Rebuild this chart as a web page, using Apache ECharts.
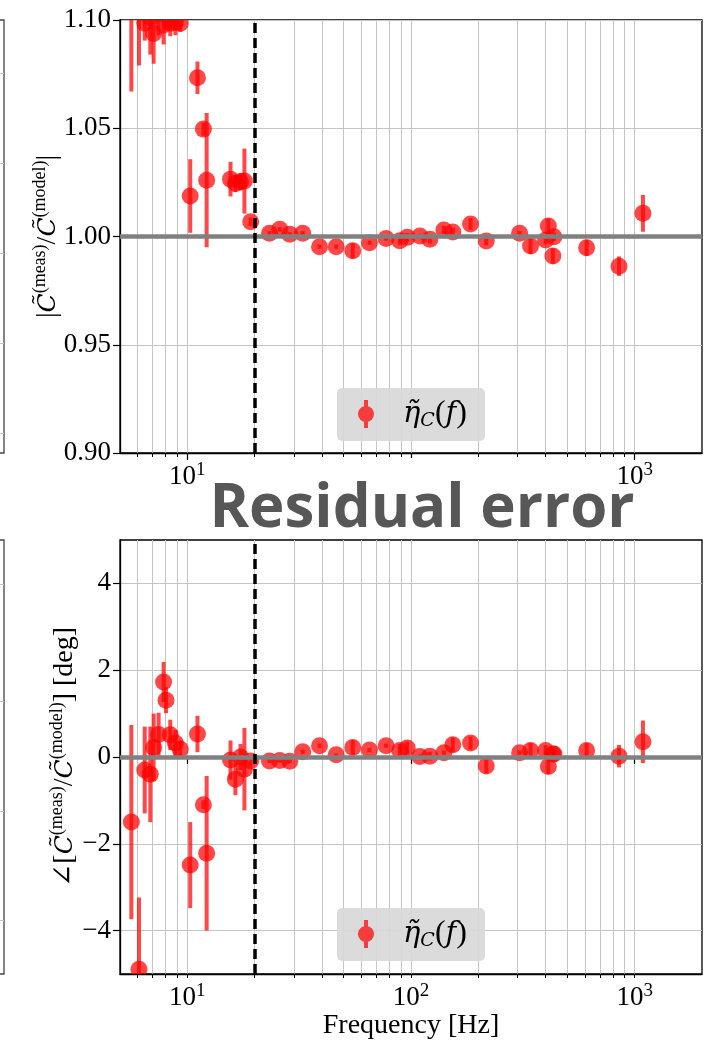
<!DOCTYPE html>
<html><head><meta charset="utf-8">
<script src="https://cdn.jsdelivr.net/npm/echarts@6/dist/echarts.min.js"></script>
<style>html,body{margin:0;padding:0;background:#fff}#c{width:716px;height:1044px}</style>
</head><body><div id="c"></div>
<script>
// ---- data ----
const freq = [5.62, 6.08, 6.45, 6.83, 7.07, 7.44, 7.83, 8.03, 8.39, 8.84, 9.3,
  10.3, 11.1, 11.8, 12.2, 15.6, 16.4, 17.3, 18.0, 19.2,
  23.3, 25.9, 28.7, 32.8, 39.0, 46.3, 54.9, 65.2, 77.4, 89.1, 96.2, 109.5, 121.4,
  140.3, 153.8, 184.6, 217.0, 305.9, 342.4, 399.9, 411.2, 430.9, 435.5, 609.8, 851, 1089];
const magRatio = [1.125, 1.112, 1.0985, 1.101, 1.0938, 1.103, 1.0977, 1.104, 1.0985, 1.099, 1.0985,
  1.0187, 1.0733, 1.0496, 1.026, 1.0265, 1.0245, 1.0253, 1.0256, 1.0068,
  1.0015, 1.0033, 1.0010, 1.0015, 0.9953, 0.9953, 0.9934, 0.9971, 0.9991, 0.9980, 0.9996, 1.0002, 0.9987,
  1.0030, 1.0021, 1.0058, 0.9979, 1.0015, 0.9956, 0.9984, 1.0048, 0.9910, 0.9999, 0.9948, 0.9863, 1.0107];
const magErr = [0.058, 0.033, 0.008, 0.017, 0.014, 0.010, 0.009, 0.008, 0.006, 0.006, 0.004,
  0.017, 0.0075, 0.003, 0.031, 0.008, 0.004, 0.004, 0.015, 0.002,
  0.001, 0.001, 0.001, 0.001, 0.001, 0.001, 0.0035, 0.001, 0.001, 0.002, 0.002, 0.001, 0.002,
  0.002, 0.002, 0.0027, 0.002, 0.001, 0.0036, 0.002, 0.0035, 0.0035, 0.002, 0.0037, 0.0045, 0.0085];
const phaseDiff = [-1.50, -4.89, -0.30, -0.40, 0.22, 0.52, 1.73, 1.31, 0.51, 0.32, 0.18,
  -2.49, 0.53, -1.10, -2.22, -0.07, -0.51, 0.00, -0.28, -0.09,
  -0.09, -0.08, -0.10, 0.12, 0.26, 0.05, 0.22, 0.16, 0.26, 0.15, 0.21, 0.01, 0.02,
  0.10, 0.28, 0.32, -0.21, 0.10, 0.15, 0.15, -0.22, 0.07, 0.07, 0.15, 0.02, 0.35];
const phaseErr = [2.24, 1.65, 1.0, 1.1, 0.78, 0.5, 0.46, 0.3, 0.35, 0.3, 0.2,
  0.99, 0.42, 0.1, 1.78, 0.45, 0.37, 0.3, 0.95, 0.1,
  0.05, 0.05, 0.05, 0.05, 0.05, 0.03, 0.17, 0.05, 0.05, 0.15, 0.15, 0.05, 0.1,
  0.05, 0.17, 0.15, 0.17, 0.05, 0.17, 0.12, 0.17, 0.1, 0.1, 0.17, 0.26, 0.49];
const xMajorTicks = [10, 100, 1000];
const xGridTicks = [6, 7, 8, 9, 10, 20, 30, 40, 50, 60, 70, 80, 90, 100, 200, 300, 400, 500, 600, 700, 800, 900, 1000];
const magTicks = [0.90, 0.95, 1.00, 1.05, 1.10];
const phaseTicks = [-4, -2, 0, 2, 4];
const cutoffFreq = 20;
const magRef = 1;
const phaseRef = 0;
const leftTopTicks = [0.2, 1.1, 2.0, 2.9, 3.8];
const leftBottomTicks = [0.54, 1.62, 2.72, 3.89];
const titleText = 'Residual error';
const xAxisTitle = 'Frequency [Hz]';

// ---- styling ----
const SERIF = '"Liberation Serif", "DejaVu Serif", serif';
const MATH = '"DejaVu Serif", serif';
const RED = 'rgba(255,0,0,0.72)';
const GRID_COLOR = '#c4c4c4';

const magData = freq.map((f, i) => [f, magRatio[i], magErr[i]]);
const phaseData = freq.map((f, i) => [f, phaseDiff[i], phaseErr[i]]);

function errRender(params, api) {
  const f = api.value(0), v = api.value(1), e = api.value(2);
  const p = api.coord([f, v]);
  const lo = api.coord([f, v - e]);
  const hi = api.coord([f, v + e]);
  return {
    type: 'group',
    children: [
      { type: 'line', shape: { x1: p[0], y1: lo[1], x2: p[0], y2: hi[1] },
        style: { stroke: RED, lineWidth: 4 } },
      { type: 'circle', shape: { cx: p[0], cy: p[1], r: 8.5 }, style: { fill: RED } }
    ]
  };
}

const tickRich = {
  b: { fontFamily: SERIF, fontSize: 27, color: '#000', lineHeight: 32 },
  s: { fontFamily: SERIF, fontSize: 19, color: '#000', lineHeight: 18, verticalAlign: 'top' }
};
function powLabel(v) {
  const e = Math.round(Math.log10(v));
  return '{b|10}{s|' + e + '}';
}
const nameRich = {
  n: { fontFamily: SERIF, fontSize: 28, color: '#000', lineHeight: 34 },
  c: { fontFamily: MATH, fontSize: 25, fontStyle: 'italic', color: '#000', lineHeight: 34 },
  s: { fontFamily: SERIF, fontSize: 18, color: '#000', lineHeight: 18, verticalAlign: 'top' }
};
const legendRich = {
  i: { fontFamily: MATH, fontSize: 29, fontStyle: 'italic', color: '#000', lineHeight: 34 },
  n: { fontFamily: SERIF, fontSize: 32, color: '#000', lineHeight: 34 },
  sub: { fontFamily: MATH, fontSize: 19, fontStyle: 'italic', color: '#000', lineHeight: 16, verticalAlign: 'bottom' }
};
const legendIcon = 'path://M8,6 A8,8 0 1,1 8,22 A8,8 0 1,1 8,6 Z M6,0 L10,0 L10,28 L6,28 Z';

function mainXAxis(gridIndex, showName) {
  return {
    type: 'log', logBase: 10, gridIndex, min: 5, max: 2000, position: 'bottom',
    axisLine: { show: true, onZero: false, lineStyle: { color: '#000', width: 1.3 } },
    axisTick: { show: true, customValues: xGridTicks, length: 4, lineStyle: { color: '#000', width: 1 } },
    axisLabel: { show: true, customValues: xMajorTicks, formatter: powLabel, rich: tickRich, margin: 8 },
    splitLine: { show: true, lineStyle: { color: GRID_COLOR, width: 1 } },
    name: showName ? xAxisTitle : '', nameLocation: 'middle', nameGap: 38, nameMoveOverlap: false,
    nameTextStyle: { fontFamily: SERIF, fontSize: 28, color: '#000' }
  };
}
function majorTickXAxis(gridIndex) {
  return {
    type: 'log', logBase: 10, gridIndex, min: 5, max: 2000, position: 'bottom',
    axisLine: { show: false },
    axisTick: { show: true, customValues: xMajorTicks, length: 7, lineStyle: { color: '#000', width: 1.2 } },
    axisLabel: { show: false },
    splitLine: { show: false }
  };
}
function leftYAxis(gridIndex, ticks) {
  return { type: 'value', gridIndex, min: 0, max: 4.33,
    axisLine: { show: false }, axisTick: { show: false, customValues: ticks },
    axisLabel: { show: false, customValues: ticks },
    splitLine: { show: true, lineStyle: { color: GRID_COLOR } } };
}
function legendFor(top) {
  return {
    data: [{ name: 'eta', icon: legendIcon }],
    left: 337, top, orient: 'vertical',
    backgroundColor: 'rgba(216,216,216,0.92)', borderRadius: 5,
    padding: [10, 18, 10, 21], itemWidth: 16, itemHeight: 28,
    formatter: () => '{i|\u03B7\u0303}{sub|C}{n|(}{i|f}{n|)}',
    textStyle: { rich: legendRich, padding: [0, 0, 0, 24] },
    selectedMode: false
  };
}
function refLine(xi, yi, val) {
  return { type: 'line', xAxisIndex: xi, yAxisIndex: yi, data: [], z: 2, silent: true,
    markLine: { silent: true, symbol: ['none', 'none'], label: { show: false },
      lineStyle: { color: '#808080', width: 4.5, type: 'solid' }, data: [{ yAxis: val }] } };
}
function cutLine(xi, yi) {
  return { type: 'line', xAxisIndex: xi, yAxisIndex: yi, data: [], z: 4, silent: true,
    markLine: { silent: true, symbol: ['none', 'none'], label: { show: false },
      lineStyle: { color: '#000', width: 3.5, type: [10, 5] }, data: [{ xAxis: cutoffFreq }] } };
}
const gridBase = { show: true, borderColor: '#000', borderWidth: 1.3, backgroundColor: 'transparent',
  containLabel: false, outerBoundsMode: 'none' };

const option = {
  animation: false,
  backgroundColor: '#fff',
  grid: [
    Object.assign({}, gridBase, { left: 120, top: 20, width: 582, height: 433 }),
    Object.assign({}, gridBase, { left: 120, top: 540, width: 582, height: 434 }),
    Object.assign({}, gridBase, { left: -400, top: 20, width: 404, height: 433, borderColor: '#444' }),
    Object.assign({}, gridBase, { left: -400, top: 540, width: 404, height: 434, borderColor: '#444' })
  ],
  xAxis: [
    mainXAxis(0, false), majorTickXAxis(0),
    mainXAxis(1, true), majorTickXAxis(1),
    { type: 'value', gridIndex: 2, show: false },
    { type: 'value', gridIndex: 3, show: false }
  ],
  yAxis: [
    {
      type: 'value', gridIndex: 0, min: 0.9, max: 1.1, interval: 0.05,
      axisLine: { show: true, lineStyle: { color: '#000', width: 1.3 } },
      axisTick: { show: true, length: 7, lineStyle: { color: '#000', width: 1.2 } },
      axisLabel: { formatter: v => v.toFixed(2), fontFamily: SERIF, fontSize: 27, color: '#000', margin: 9 },
      splitLine: { show: true, lineStyle: { color: GRID_COLOR, width: 1 } },
      name: '{n||}{c|C\u0303}{s|(meas)}{n|/}{c|C\u0303}{s|(model)}{n||}',
      nameLocation: 'middle', nameRotate: 90, nameGap: 55, nameMoveOverlap: false,
      nameTextStyle: { rich: nameRich }
    },
    {
      type: 'value', gridIndex: 1, min: -5, max: 5,
      axisLine: { show: true, onZero: false, lineStyle: { color: '#000', width: 1.3 } },
      axisTick: { show: true, customValues: phaseTicks, length: 7, lineStyle: { color: '#000', width: 1.2 } },
      axisLabel: { customValues: phaseTicks, formatter: v => (v < 0 ? '\u2212' + Math.abs(v) : '' + v),
        fontFamily: SERIF, fontSize: 27, color: '#000', margin: 9 },
      splitLine: { show: true, lineStyle: { color: GRID_COLOR, width: 1 } },
      name: '{n|\u2220[}{c|C\u0303}{s|(meas)}{n|/}{c|C\u0303}{s|(model)}{n|] [deg]}',
      nameLocation: 'middle', nameRotate: 90, nameGap: 38, nameMoveOverlap: false,
      nameTextStyle: { rich: nameRich }
    },
    leftYAxis(2, leftTopTicks),
    leftYAxis(3, leftBottomTicks)
  ],
  legend: [legendFor(388), legendFor(908)],
  series: [
    refLine(0, 0, magRef),
    refLine(2, 1, phaseRef),
    { name: 'eta', type: 'custom', xAxisIndex: 0, yAxisIndex: 0, data: magData, clip: true, z: 3,
      encode: { x: 0, y: 1 }, itemStyle: { color: RED }, renderItem: errRender },
    { name: 'eta', type: 'custom', xAxisIndex: 2, yAxisIndex: 1, data: phaseData, clip: true, z: 3,
      encode: { x: 0, y: 1 }, itemStyle: { color: RED }, renderItem: errRender },
    cutLine(0, 0),
    cutLine(2, 1)
  ],
  graphic: [
    { type: 'rect', shape: { x: 215, y: 458, width: 400, height: 30 }, style: { fill: '#fff' }, z: 99 },
    { type: 'text', x: 422, y: 510, z: 100,
      style: { text: titleText, font: 'bold 60px "Open Sans", "DejaVu Sans", sans-serif', fill: '#575757',
        align: 'center', verticalAlign: 'middle' } }
  ]
};

const chart = echarts.init(document.getElementById('c'), null, { renderer: 'canvas' });
chart.setOption(option);
</script>
</body></html>
